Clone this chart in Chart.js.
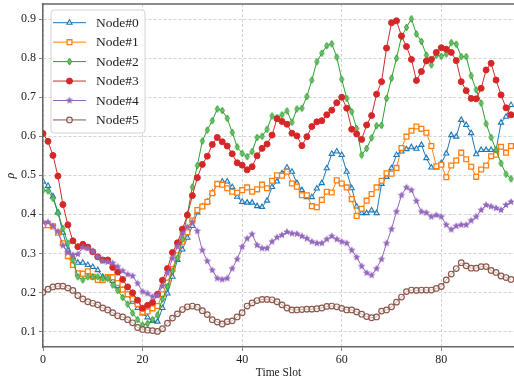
<!DOCTYPE html>
<html>
<head>
<meta charset="utf-8">
<script src="https://cdn.jsdelivr.net/npm/chart.js@4.4.0/dist/chart.umd.min.js"></script>
<style>
html, body { margin: 0; padding: 0; background: #fff; }
</style>
</head>
<body>
<canvas id="grafico" width="514" height="381"></canvas>
<script>
// time slots 0..94
const slots = Array.from({ length: 95 }, (_, i) => i);
const xTicks = [0, 20, 40, 60, 80];
const yTicks = [0.1, 0.2, 0.3, 0.4, 0.5, 0.6, 0.7, 0.8, 0.9];
const nombres = ['Node#0', 'Node#1', 'Node#2', 'Node#3', 'Node#4', 'Node#5'];

const node0 = [0.484,0.473,0.446,0.405,0.353,0.308,0.290,0.276,0.276,0.270,
  0.265,0.257,0.240,0.236,0.229,0.216,0.206,0.193,0.176,0.160,
  0.146,0.136,0.127,0.125,0.160,0.197,0.240,0.283,0.310,0.340,
  0.370,0.405,0.420,0.432,0.455,0.475,0.484,0.484,0.470,0.445,
  0.432,0.430,0.430,0.421,0.419,0.435,0.470,0.484,0.505,0.520,
  0.509,0.480,0.462,0.444,0.444,0.466,0.480,0.518,0.555,0.561,
  0.552,0.509,0.467,0.420,0.403,0.403,0.410,0.403,0.478,0.496,
  0.518,0.552,0.561,0.567,0.572,0.568,0.578,0.544,0.520,0.520,
  0.531,0.556,0.603,0.599,0.642,0.629,0.608,0.554,0.565,0.565,
  0.565,0.565,0.635,0.650,0.680];

const node1 = [0.372,0.372,0.369,0.353,0.326,0.293,0.270,0.249,0.248,0.254,
  0.240,0.232,0.231,0.239,0.239,0.224,0.207,0.195,0.183,0.170,
  0.150,0.151,0.159,0.165,0.195,0.225,0.260,0.295,0.330,0.354,
  0.384,0.411,0.420,0.432,0.454,0.478,0.476,0.467,0.458,0.455,
  0.462,0.469,0.458,0.464,0.476,0.467,0.486,0.500,0.499,0.509,
  0.479,0.471,0.449,0.449,0.421,0.418,0.437,0.458,0.456,0.487,
  0.479,0.469,0.439,0.396,0.414,0.435,0.452,0.469,0.486,0.505,
  0.504,0.519,0.570,0.599,0.614,0.625,0.619,0.609,0.575,0.523,
  0.527,0.495,0.525,0.538,0.558,0.541,0.522,0.496,0.515,0.525,
  0.549,0.553,0.573,0.558,0.575];

const node2 = [0.462,0.460,0.441,0.404,0.364,0.326,0.283,0.240,0.232,0.240,
  0.240,0.240,0.236,0.236,0.219,0.205,0.187,0.170,0.147,0.130,
  0.116,0.120,0.130,0.142,0.183,0.215,0.255,0.288,0.336,0.400,
  0.470,0.525,0.588,0.616,0.640,0.670,0.666,0.646,0.610,0.573,
  0.556,0.548,0.561,0.597,0.600,0.618,0.652,0.648,0.655,0.665,
  0.636,0.670,0.672,0.702,0.744,0.791,0.813,0.832,0.837,0.803,
  0.746,0.697,0.663,0.620,0.552,0.569,0.596,0.627,0.628,0.697,
  0.749,0.800,0.855,0.879,0.901,0.862,0.843,0.808,0.783,0.808,
  0.805,0.811,0.840,0.836,0.804,0.804,0.755,0.719,0.685,0.632,
  0.597,0.565,0.531,0.503,0.491];

const node3 = [0.607,0.587,0.551,0.498,0.425,0.373,0.332,0.317,0.323,0.316,
  0.304,0.291,0.283,0.283,0.264,0.252,0.233,0.214,0.199,0.180,
  0.159,0.167,0.174,0.195,0.231,0.261,0.302,0.327,0.362,0.398,
  0.448,0.494,0.528,0.549,0.579,0.597,0.586,0.575,0.555,0.532,
  0.526,0.514,0.522,0.550,0.569,0.580,0.603,0.645,0.638,0.631,
  0.608,0.601,0.576,0.599,0.625,0.637,0.640,0.655,0.667,0.686,
  0.700,0.672,0.618,0.606,0.592,0.629,0.653,0.708,0.740,0.826,
  0.891,0.896,0.857,0.830,0.797,0.743,0.766,0.793,0.797,0.815,
  0.827,0.823,0.815,0.794,0.740,0.717,0.697,0.696,0.723,0.770,
  0.787,0.744,0.706,0.673,0.655];

const node4 = [0.380,0.380,0.370,0.356,0.320,0.302,0.296,0.298,0.315,0.313,
  0.305,0.291,0.280,0.278,0.275,0.266,0.255,0.246,0.242,0.223,
  0.202,0.197,0.189,0.192,0.216,0.249,0.287,0.317,0.351,0.368,
  0.381,0.357,0.308,0.280,0.257,0.236,0.233,0.236,0.261,0.285,
  0.317,0.338,0.349,0.321,0.313,0.313,0.330,0.341,0.347,0.355,
  0.351,0.350,0.344,0.338,0.330,0.326,0.326,0.336,0.344,0.336,
  0.330,0.326,0.308,0.290,0.267,0.250,0.244,0.261,0.285,0.326,
  0.362,0.407,0.449,0.469,0.462,0.434,0.407,0.404,0.394,0.398,
  0.394,0.373,0.361,0.370,0.373,0.373,0.384,0.394,0.411,0.424,
  0.420,0.416,0.411,0.424,0.432];

const node5 = [0.200,0.208,0.214,0.216,0.216,0.211,0.205,0.192,0.183,0.176,
  0.172,0.168,0.160,0.155,0.148,0.140,0.137,0.130,0.122,0.110,
  0.105,0.103,0.102,0.100,0.107,0.121,0.134,0.145,0.156,0.163,
  0.165,0.162,0.153,0.143,0.130,0.124,0.119,0.125,0.127,0.137,
  0.148,0.165,0.173,0.179,0.182,0.182,0.181,0.176,0.168,0.160,
  0.155,0.155,0.156,0.157,0.157,0.158,0.160,0.164,0.165,0.163,
  0.159,0.155,0.155,0.150,0.144,0.138,0.135,0.137,0.152,0.155,
  0.163,0.175,0.188,0.202,0.206,0.205,0.206,0.206,0.206,0.210,
  0.215,0.232,0.247,0.261,0.276,0.268,0.262,0.262,0.266,0.266,
  0.256,0.251,0.242,0.238,0.233];

const series = [node0, node1, node2, node3, node4, node5];
const colores = ['#1f77b4', '#ff7f0e', '#2ca02c', '#d62728', '#9467bd', '#8c564b'];

Chart.defaults.font.family = "'Liberation Serif', 'DejaVu Serif', serif";
Chart.defaults.color = '#222';

// custom marker images (filled star, thin diamond)
function estrella(color, r) {
    const s = Math.ceil(r * 2 + 2);
    const c = document.createElement('canvas');
    c.width = s; c.height = s;
    const g = c.getContext('2d');
    g.fillStyle = color;
    g.beginPath();
    for (let k = 0; k < 10; k++) {
        const rad = k % 2 === 0 ? r : r * 0.45;
        const a = -Math.PI / 2 + k * Math.PI / 5;
        g.lineTo(s / 2 + rad * Math.cos(a), s / 2 + rad * Math.sin(a));
    }
    g.closePath();
    g.fill();
    return c;
}

function diamante(color, fill, r) {
    const s = Math.ceil(r * 2 + 2);
    const c = document.createElement('canvas');
    c.width = s; c.height = s;
    const g = c.getContext('2d');
    const m = s / 2;
    g.beginPath();
    g.moveTo(m, m - r);
    g.lineTo(m + r * 0.62, m);
    g.lineTo(m, m + r);
    g.lineTo(m - r * 0.62, m);
    g.closePath();
    g.fillStyle = fill;
    g.fill();
    g.lineWidth = 1;
    g.strokeStyle = color;
    g.stroke();
    return c;
}

const marcadores = [
    { style: 'triangle', radius: 3.0, bg: 'rgba(255,255,255,0.75)', bw: 1.1 },
    { style: 'rect', radius: 3.4, bg: '#ffffff', bw: 1.3 },
    { style: diamante('#2ca02c', '#6fbf6f', 3.4), radius: 3.4, bg: '#2ca02c', bw: 1 },
    { style: 'circle', radius: 3.0, bg: '#d62728', bw: 1 },
    { style: estrella('#9467bd', 4.0), radius: 4.0, bg: '#9467bd', bw: 1 },
    { style: 'circle', radius: 2.8, bg: 'rgba(255,255,255,0.55)', bw: 1.2 }
];

function dibujarMarcador(ctx, i, x, y) {
    const m = marcadores[i];
    const col = colores[i];
    if (typeof m.style !== 'string') {
        ctx.drawImage(m.style, x - m.style.width / 2, y - m.style.height / 2);
        return;
    }
    ctx.save();
    ctx.beginPath();
    const r = m.radius;
    if (m.style === 'circle') {
        ctx.arc(x, y, r, 0, Math.PI * 2);
    } else if (m.style === 'rect') {
        const h = r * Math.SQRT1_2;
        ctx.rect(x - h, y - h, h * 2, h * 2);
    } else {
        ctx.moveTo(x, y - r);
        ctx.lineTo(x + r * 0.866, y + r * 0.5);
        ctx.lineTo(x - r * 0.866, y + r * 0.5);
        ctx.closePath();
    }
    ctx.fillStyle = m.bg;
    ctx.fill();
    ctx.lineWidth = m.bw;
    ctx.strokeStyle = col;
    ctx.stroke();
    ctx.restore();
}

const leyenda = {
    id: 'leyenda',
    afterDatasetsDraw(chart) {
        const ctx = chart.ctx;
        ctx.save();
        ctx.beginPath();
        ctx.roundRect(51, 10, 94, 123, 3);
        ctx.fillStyle = 'rgba(255,255,255,0.85)';
        ctx.fill();
        ctx.lineWidth = 1;
        ctx.strokeStyle = '#d4d4d4';
        ctx.stroke();
        ctx.font = "13.5px 'Liberation Serif'";
        ctx.textBaseline = 'middle';
        nombres.forEach((n, i) => {
            const y = 22.7 + i * 19.45;
            ctx.beginPath();
            ctx.moveTo(53, y);
            ctx.lineTo(86, y);
            ctx.lineWidth = 1;
            ctx.strokeStyle = colores[i];
            ctx.stroke();
            dibujarMarcador(ctx, i, 69.5, y);
            ctx.fillStyle = '#222';
            ctx.fillText(n, 96, y + 0.5);
        });
        // top spine
        const a = chart.chartArea;
        ctx.beginPath();
        ctx.moveTo(a.left, a.top);
        ctx.lineTo(a.right, a.top);
        ctx.lineWidth = 1.5;
        ctx.strokeStyle = '#666';
        ctx.stroke();
        ctx.restore();
    }
};

const sinMargen = s => { s.paddingTop = 0; s.paddingBottom = 0; s.paddingLeft = 0; s.paddingRight = 0; };

const datasets = series.map((arr, i) => ({
    label: nombres[i],
    data: slots.map((x, k) => ({ x: x, y: arr[k] })),
    borderColor: colores[i],
    borderWidth: 1,
    pointStyle: marcadores[i].style,
    pointRadius: marcadores[i].radius,
    pointBackgroundColor: marcadores[i].bg,
    pointBorderColor: colores[i],
    pointBorderWidth: marcadores[i].bw,
    tension: 0,
    fill: false,
    order: 5 - i
}));

const grafico = new Chart(document.getElementById('grafico').getContext('2d'), {
    type: 'line',
    data: { datasets: datasets },
    options: {
        responsive: false,
        animation: false,
        events: [],
        layout: { autoPadding: false, padding: { top: 4, right: 0, left: 0, bottom: 0 } },
        plugins: {
            legend: { display: false },
            tooltip: { enabled: false }
        },
        scales: {
            x: {
                type: 'linear',
                min: 0,
                max: 94.6,
                afterFit: s => { s.height = 34; sinMargen(s); },
                afterBuildTicks: s => { s.ticks = xTicks.map(v => ({ value: v })); },
                ticks: { font: { size: 12 }, padding: 2, maxRotation: 0 },
                grid: { color: '#c8c8c8', lineWidth: 0.8, tickColor: '#666', tickLength: 4, tickBorderDash: [] },
                border: { color: '#666', width: 1.5, dash: [3, 2] },
                title: { display: true, text: 'Time Slot', font: { size: 11.5 }, padding: { top: 0, bottom: 1 } }
            },
            y: {
                min: 0.06,
                max: 0.939,
                afterFit: s => { s.width = 43; sinMargen(s); },
                afterBuildTicks: s => { s.ticks = yTicks.map(v => ({ value: v })); },
                ticks: { font: { size: 12 }, padding: 3, callback: v => v.toFixed(1) },
                grid: { color: '#c8c8c8', lineWidth: 0.8, tickColor: '#666', tickLength: 4, tickBorderDash: [] },
                border: { color: '#666', width: 1.5, dash: [3, 2] },
                title: { display: true, text: 'ρ', font: { size: 12, style: 'italic' }, padding: { top: 4, bottom: 0 } }
            }
        }
    },
    plugins: [leyenda]
});
</script>
</body>
</html>
